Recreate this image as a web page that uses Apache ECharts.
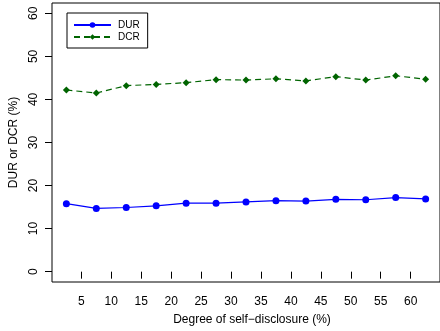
<!DOCTYPE html>
<html><head><meta charset="utf-8">
<script src="https://cdn.jsdelivr.net/npm/echarts@6/dist/echarts.min.js"></script>
<style>html,body{margin:0;padding:0;background:#fff}#c{width:440px;height:331px}</style>
</head><body><div id="c"></div>
<script>
const xValues = [2.5, 7.5, 12.5, 17.5, 22.5, 27.5, 32.5, 37.5, 42.5, 47.5, 52.5, 57.5, 62.5];
const durValues = [15.8, 14.7, 14.9, 15.3, 15.9, 15.9, 16.2, 16.5, 16.4, 16.8, 16.7, 17.2, 16.9];
const dcrValues = [42.2, 41.5, 43.2, 43.5, 43.9, 44.6, 44.5, 44.8, 44.3, 45.3, 44.5, 45.5, 44.7];
const xTicks = [5, 10, 15, 20, 25, 30, 35, 40, 45, 50, 55, 60];
const yTicks = [0, 10, 20, 30, 40, 50, 60];

const font = '"Liberation Sans", Arial, sans-serif';
const chart = echarts.init(document.getElementById('c'), null, {renderer: 'canvas'});
chart.setOption({
  animation: false,
  textStyle: {fontFamily: font},
  grid: {left: 52, top: 3, right: -8, bottom: 46, show: true, borderColor: '#000', borderWidth: 1, backgroundColor: 'transparent'},
  legend: {
    left: 67, top: 13, orient: 'vertical', itemWidth: 37, itemHeight: 7, itemGap: 2,
    borderColor: '#000', borderWidth: 1, borderRadius: 0, padding: [7, 8, 6, 6],
    textStyle: {fontFamily: font, fontSize: 10, color: '#000', padding: [0, 0, 0, 2]},
    data: [{name: 'DUR'}, {name: 'DCR'}]
  },
  xAxis: {
    type: 'value', min: 0.1, max: 64.9,
    name: 'Degree of self\u2212disclosure (%)', nameLocation: 'middle', nameGap: 32,
    nameTextStyle: {fontFamily: font, fontSize: 12, color: '#000', padding: [0, 0, 0, 12]},
    axisLine: {show: false},
    axisTick: {show: true, inside: false, length: 7, lineStyle: {color: '#000'}, customValues: xTicks},
    axisLabel: {fontFamily: font, fontSize: 12, color: '#000', margin: 14, customValues: xTicks},
    splitLine: {show: false}
  },
  yAxis: {
    type: 'value', min: -2.4, max: 62.4,
    name: 'DUR or DCR (%)', nameLocation: 'middle', nameGap: 25,
    nameTextStyle: {fontFamily: font, fontSize: 12, color: '#000'},
    axisLine: {show: false},
    axisTick: {show: true, inside: false, length: 7, lineStyle: {color: '#000'}, customValues: yTicks},
    axisLabel: {fontFamily: font, fontSize: 12, color: '#000', margin: 12, rotate: 90, customValues: yTicks},
    splitLine: {show: false}
  },
  series: [
    {
      name: 'DUR', type: 'line', data: xValues.map((x, i) => [x, durValues[i]]),
      symbol: 'circle', symbolSize: 7,
      itemStyle: {color: '#0000ff'}, lineStyle: {color: '#0000ff', width: 1.2}
    },
    {
      name: 'DCR', type: 'line', data: xValues.map((x, i) => [x, dcrValues[i]]),
      symbol: 'diamond', symbolSize: 7,
      itemStyle: {color: '#006400'}, lineStyle: {color: '#006400', width: 1.2, type: [6, 4]}
    }
  ]
});
</script></body></html>
